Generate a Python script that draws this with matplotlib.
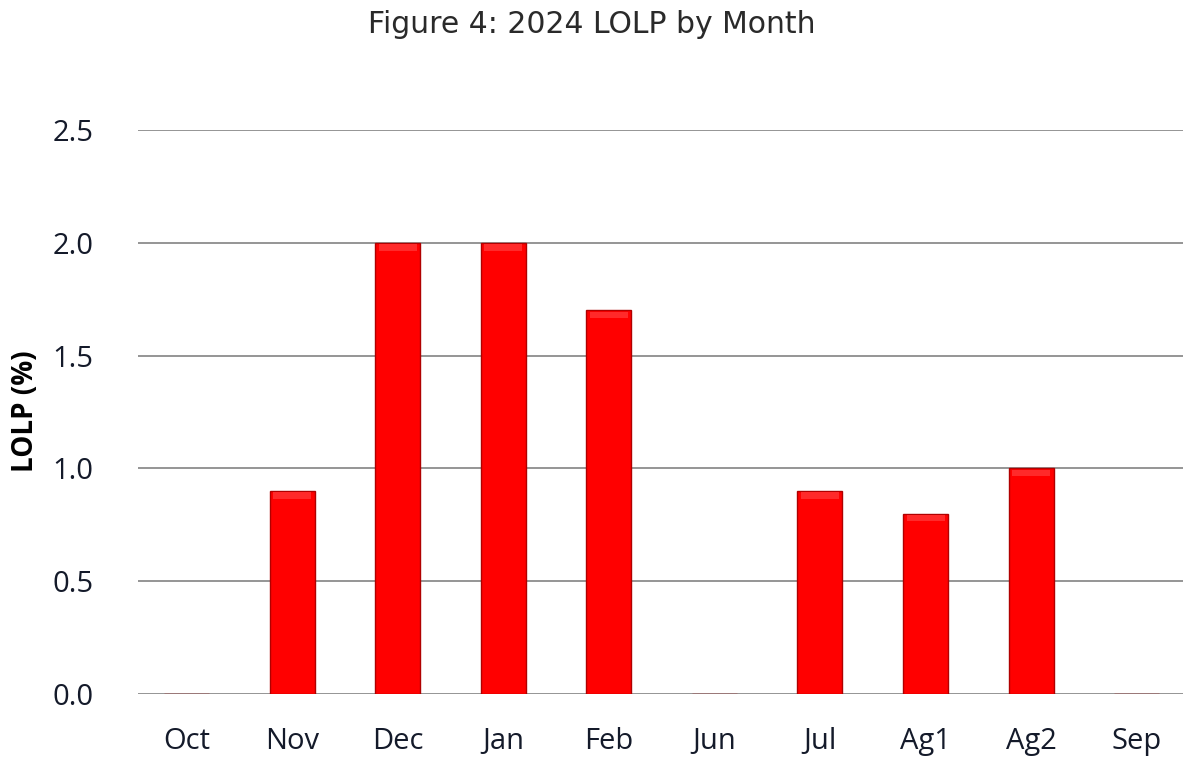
import matplotlib
matplotlib.use("Agg")
import matplotlib.pyplot as plt
import numpy as np

# Monthly LOLP values (%)
MONTHS = ["Oct", "Nov", "Dec", "Jan", "Feb", "Jun", "Jul", "Ag1", "Ag2", "Sep"]
LOLP = [0.0, 0.9, 2.0, 2.0, 1.7, 0.0, 0.9, 0.8, 1.0, 0.0]
Y_TICKS = [0.0, 0.5, 1.0, 1.5, 2.0, 2.5]

TEXT_COLOR = "#141a2a"
BAR_COLOR = "#ff0000"
EDGE_COLOR = "#b00000"
GRID_COLOR = "#8c8c8c"

fig = plt.figure(figsize=(11.83, 7.63), dpi=100)
ax = fig.add_axes([0.1167, 0.0904, 0.8833, 0.7392])

x = np.arange(len(MONTHS))
ax.bar(x, LOLP, width=0.426, color=BAR_COLOR, edgecolor=EDGE_COLOR,
       linewidth=1.0, zorder=3)
# light bevel along the top of each bar
for xi, v in zip(x, LOLP):
    if v > 0:
        ax.bar(xi, 0.03, bottom=v - 0.035, width=0.36, color="#ff2a2a",
               linewidth=0, zorder=4)

ax.set_xlim(-0.458, 9.438)
ax.set_ylim(0, 2.5)
ax.set_yticks(Y_TICKS)
ax.set_yticklabels([f"{v:.1f}" for v in Y_TICKS])
ax.set_xticks(x)
ax.set_xticklabels(MONTHS)

ax.yaxis.grid(True, color=GRID_COLOR, linewidth=1.3, zorder=0)
ax.set_axisbelow(True)
for s in ax.spines.values():
    s.set_visible(False)

ax.tick_params(axis="y", length=0, pad=32, labelsize=21, labelcolor=TEXT_COLOR)
ax.tick_params(axis="x", length=0, pad=24, labelsize=21, labelcolor=TEXT_COLOR)
for lab in ax.get_xticklabels() + ax.get_yticklabels():
    lab.set_fontfamily("Open Sans")

ax.set_ylabel("LOLP (%)", fontsize=20, fontweight="bold", color="black",
              fontfamily="Open Sans")
ax.yaxis.set_label_coords(-0.094, 0.502)

fig.text(0.5, 0.968, "Figure 4: 2024 LOLP by Month", ha="center", va="center",
         fontsize=21.5, color="#2a2a2a", fontfamily="DejaVu Sans")

fig.savefig("out.png", dpi=100)
